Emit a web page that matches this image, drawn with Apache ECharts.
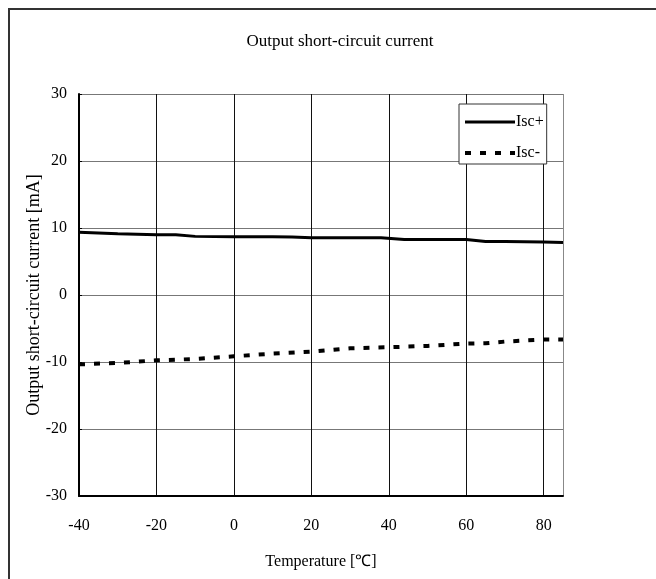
<!DOCTYPE html>
<html>
<head>
<meta charset="utf-8">
<style>
  html, body { margin: 0; padding: 0; background: #fff; }
  #chart { width: 656px; height: 579px; }
</style>
<script src="https://cdn.jsdelivr.net/npm/echarts@6/dist/echarts.min.js"></script>
</head>
<body>
<div id="chart"></div>
<script>
// temperature points (°C)
const tempPlus = [-40, -30, -20, -15, -10, 0, 10, 15, 20, 30, 38, 44, 50, 60, 65, 70, 80, 85];
const iscPlus = [9.35, 9.15, 9.0, 9.0, 8.75, 8.7, 8.7, 8.65, 8.55, 8.55, 8.55, 8.3, 8.3, 8.3, 8.0, 8.0, 7.9, 7.85];

const tempMinus = [-40, -30, -20, -10, 0, 10, 20, 30, 40, 50, 60, 65, 70, 80, 85];
const iscMinus = [-10.35, -10.15, -9.75, -9.55, -9.15, -8.75, -8.45, -7.95, -7.8, -7.6, -7.25, -7.2, -6.95, -6.65, -6.65];

const seriesNames = ["Isc+", "Isc-"];

const font = "Liberation Serif";
let myChart = echarts.init(document.getElementById("chart"));

let option = {
  animation: false,
  backgroundColor: "#fff",
  textStyle: { fontFamily: font, color: "#000" },
  title: {
    text: "Output short-circuit current",
    left: 335,
    top: 28,
    textAlign: "center",
    textStyle: { fontFamily: font, fontSize: 17, fontWeight: "normal", color: "#000" }
  },
  graphic: [
    {
      type: "rect",
      shape: { x: 9, y: 9, width: 700, height: 700 },
      style: { fill: null, stroke: "#333", lineWidth: 2 },
      silent: true
    }
  ],
  legend: {
    orient: "vertical",
    left: 459,
    top: 104,
    padding: [10, 3, 3, 4],
    itemGap: 15,
    itemWidth: 50,
    itemHeight: 14,
    backgroundColor: "#fff",
    borderColor: "#333",
    borderWidth: 1,
    itemStyle: { opacity: 0 },
    textStyle: { fontFamily: font, fontSize: 16, color: "#000", padding: [0, 0, 0, -4] },
    data: [
      { name: seriesNames[0], lineStyle: { width: 3 } },
      { name: seriesNames[1], lineStyle: { width: 4 } }
    ]
  },
  grid: { left: 79, top: 94, right: 93, bottom: 83, containLabel: false },
  xAxis: {
    type: "value",
    min: -40,
    max: 85,
    interval: 20,
    name: "Temperature [\u2103]",
    nameLocation: "middle",
    nameGap: 58,
    nameMoveOverlap: false,
    nameTextStyle: { fontFamily: font, fontSize: 16, color: "#000" },
    axisLine: { show: true, onZero: false, lineStyle: { color: "#000", width: 2 } },
    axisTick: { show: false },
    axisLabel: { fontFamily: font, fontSize: 16, color: "#000", margin: 22, showMaxLabel: false },
    splitLine: {
      show: true,
      lineStyle: { color: ["#111", "#111", "#111", "#111", "#111", "#111", "#111", "#888"], width: 1 }
    }
  },
  yAxis: {
    type: "value",
    min: -30,
    max: 30,
    interval: 10,
    name: "Output short-circuit current [mA]",
    nameLocation: "middle",
    nameGap: 36,
    nameMoveOverlap: false,
    nameTextStyle: { fontFamily: font, fontSize: 18, color: "#000" },
    axisLine: { show: true, onZero: false, lineStyle: { color: "#000", width: 2 } },
    axisTick: { show: true, inside: true, length: 3, lineStyle: { color: "#000" } },
    axisLabel: { fontFamily: font, fontSize: 16, color: "#000", margin: 12 },
    splitLine: { show: true, lineStyle: { color: "#777", width: 1 } }
  },
  series: [
    {
      name: seriesNames[0],
      type: "line",
      showSymbol: false,
      symbol: "none",
      data: tempPlus.map((t, i) => [t, iscPlus[i]]),
      lineStyle: { color: "#000", width: 3 },
      itemStyle: { color: "#000" }
    },
    {
      name: seriesNames[1],
      type: "line",
      showSymbol: false,
      symbol: "none",
      data: tempMinus.map((t, i) => [t, iscMinus[i]]),
      lineStyle: { color: "#000", width: 4, type: [6, 9], cap: "butt" },
      itemStyle: { color: "#000" }
    }
  ]
};
myChart.setOption(option);
</script>
</body>
</html>
